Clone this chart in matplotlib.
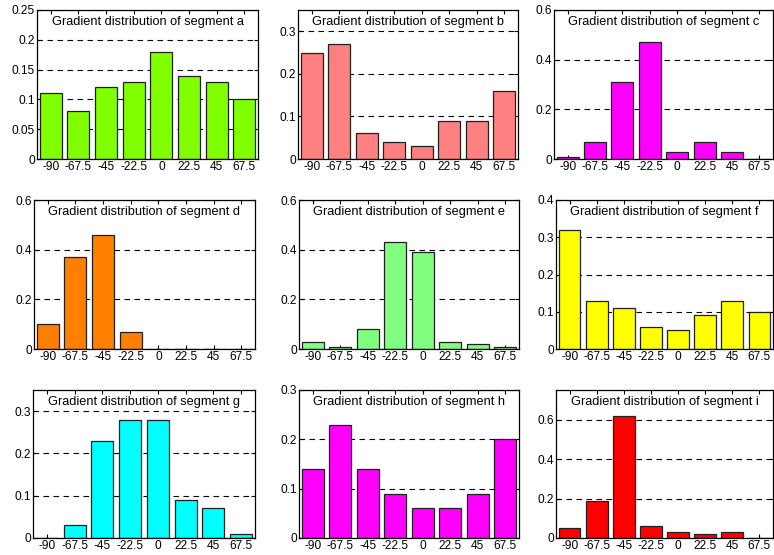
import matplotlib
matplotlib.use("Agg")
import matplotlib.pyplot as plt
from matplotlib.ticker import FixedLocator

plt.rcParams['font.family'] = ['Liberation Sans', 'DejaVu Sans']

angles = ["-90", "-67.5", "-45", "-22.5", "0", "22.5", "45", "67.5"]

seg_a = [0.11, 0.08, 0.12, 0.13, 0.18, 0.14, 0.13, 0.10]
seg_b = [0.25, 0.27, 0.06, 0.04, 0.03, 0.09, 0.09, 0.16]
seg_c = [0.01, 0.07, 0.31, 0.47, 0.03, 0.07, 0.03, 0.0]
seg_d = [0.10, 0.37, 0.46, 0.07, 0.0, 0.0, 0.0, 0.0]
seg_e = [0.03, 0.01, 0.08, 0.43, 0.39, 0.03, 0.02, 0.01]
seg_f = [0.32, 0.13, 0.11, 0.06, 0.05, 0.09, 0.13, 0.10]
seg_g = [0.0, 0.03, 0.23, 0.28, 0.28, 0.09, 0.07, 0.01]
seg_h = [0.14, 0.23, 0.14, 0.09, 0.06, 0.06, 0.09, 0.20]
seg_i = [0.05, 0.19, 0.62, 0.06, 0.03, 0.02, 0.03, 0.0]

names = ["a", "b", "c", "d", "e", "f", "g", "h", "i"]
series = [seg_a, seg_b, seg_c, seg_d, seg_e, seg_f, seg_g, seg_h, seg_i]
colors = ["#80ff00", "#ff8080", "#ff00ff", "#ff8000", "#80ff80",
          "#ffff00", "#00ffff", "#ff00ff", "#ff0000"]
ymax = [0.25, 0.35, 0.6, 0.6, 0.6, 0.4, 0.35, 0.3, 0.75]
ystep = [0.05, 0.1, 0.2, 0.2, 0.2, 0.1, 0.1, 0.1, 0.2]

W, H = 774, 555
# axes boxes in pixels: left, top, right, bottom
boxes = [
    (37, 10, 258, 159), (298, 10, 518, 159), (554, 10, 773, 159),
    (34, 200, 255, 349), (299, 200, 519, 349), (556, 200, 773, 349),
    (33, 390, 255, 538), (299, 390, 519, 538), (556, 390, 773, 538),
]

fig = plt.figure(figsize=(W / 100, H / 100), dpi=100)

for name, vals, col, top, step, (l, t, r, b) in zip(names, series, colors, ymax, ystep, boxes):
    ax = fig.add_axes([l / W, 1 - b / H, (r - l) / W, (b - t) / H])
    x = list(range(len(vals)))
    ax.bar(x, vals, width=0.8, color=col, edgecolor="#202020", linewidth=0.9, zorder=2)
    ax.set_xlim(-0.5, 7.5)
    ax.set_ylim(0, top)
    ax.set_xticks(x)
    ax.set_xticklabels(angles)
    n = int(round(top / step))
    ticks = [round(k * step, 4) for k in range(n + 1) if k * step <= top + 1e-9]
    ax.yaxis.set_major_locator(FixedLocator(ticks))
    ax.set_yticklabels(["%g" % v for v in ticks])
    ax.tick_params(direction="in", length=3, width=0.8, labelsize=8.6, pad=1.5,
                   top=True, right=True, colors="black")
    ax.grid(axis="y", linestyle=(0, (5, 4)), color="black", linewidth=0.8, zorder=0)
    ax.set_axisbelow(True)
    for sp in ax.spines.values():
        sp.set_linewidth(0.9)
        sp.set_zorder(3)
    ax.text(0.5, 0.92, "Gradient distribution of segment " + name,
            transform=ax.transAxes, ha="center", va="center", fontsize=9.2, zorder=4)

fig.savefig("out.png", dpi=100)
